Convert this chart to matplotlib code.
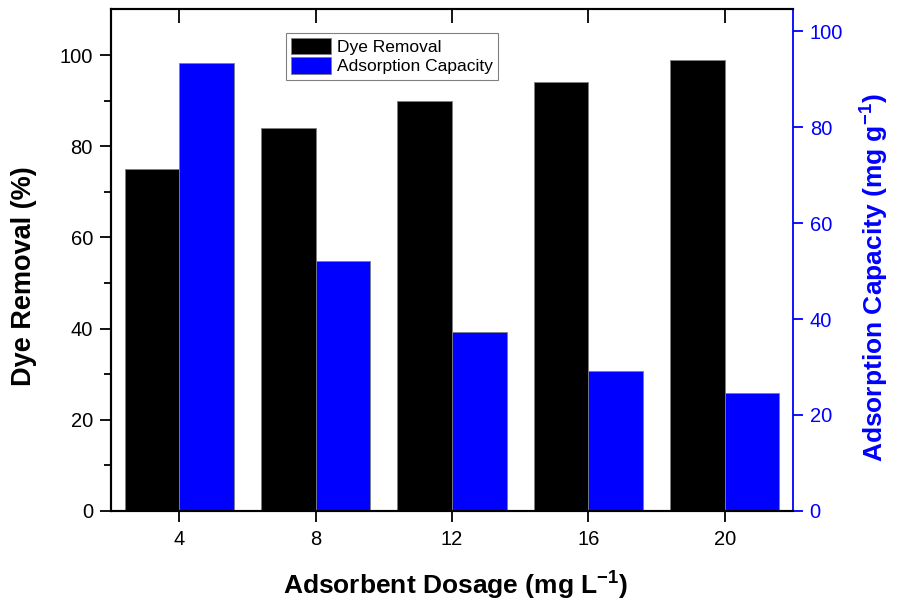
import matplotlib
matplotlib.use("Agg")
import matplotlib.pyplot as plt
import numpy as np

plt.rcParams['font.family'] = ['Liberation Sans', 'DejaVu Sans']
plt.rcParams['mathtext.default'] = 'regular'

# dosage (mg/L) vs removal and capacity
dosage = [4, 8, 12, 16, 20]
dye_removal = [75, 84, 90, 94, 99]
adsorption_capacity = [93.3, 52.1, 37.3, 29.2, 24.6]

bar_w = 1.6
blue = '#0000FF'

fig = plt.figure(figsize=(9.01, 6.01), dpi=100)
ax = fig.add_axes([0.1232, 0.1498, 0.7569, 0.8344])
ax2 = ax.twinx()

b1 = ax.bar(dosage, dye_removal, width=-bar_w, align='edge', color='black',
            edgecolor='#808080', linewidth=0.6, label='Dye Removal')
b2 = ax2.bar(dosage, adsorption_capacity, width=bar_w, align='edge', color=blue,
             edgecolor='#808080', linewidth=0.6, label='Adsorption Capacity')

ax.set_xlim(2, 22)
ax.set_ylim(0, 110)
ax2.set_ylim(0, 104.5)

ax.set_xticks(dosage)
ax.set_yticks(np.arange(0, 101, 20))
ax.set_yticks(np.arange(10, 110, 20), minor=True)
ax2.set_yticks(np.arange(0, 101, 20))

ax.tick_params(axis='x', which='major', direction='out', length=8, width=1.3,
               labelsize=14.5, top=False, pad=6)
ax.tick_params(axis='y', which='major', direction='out', length=8, width=1.3,
               labelsize=14.5, pad=5)
ax.tick_params(axis='y', which='minor', direction='out', length=5, width=1.3)
# inward ticks along the top edge
sec = ax.secondary_xaxis('top')
sec.set_xticks(dosage)
sec.tick_params(direction='in', length=10, width=1.3, labeltop=False)
sec.spines['top'].set_visible(False)

ax2.tick_params(axis='y', which='major', direction='out', length=7, width=1.3,
                labelsize=14.5, colors=blue, pad=5)

for s in ['left', 'bottom', 'top']:
    ax.spines[s].set_linewidth(1.5)
    ax2.spines[s].set_linewidth(1.5)
ax2.spines['right'].set_color(blue)
ax2.spines['right'].set_linewidth(1.3)
ax.spines['right'].set_visible(False)

ax.set_xlabel('Adsorbent Dosage (mg L$^{-1}$)', fontsize=19, fontweight='bold')
ax.set_ylabel('Dye Removal (%)', fontsize=19.5, fontweight='bold')
ax2.set_ylabel('Adsorption Capacity (mg g$^{-1}$)', fontsize=19, fontweight='bold',
               color=blue)
ax.xaxis.set_label_coords(0.505, -0.118)
ax.yaxis.set_label_coords(-0.108, 0.468)
ax2.yaxis.set_label_coords(1.096, 0.465)

leg = fig.legend(handles=[b1, b2], loc='upper left', bbox_to_anchor=(0.3174, 0.9456),
                 fontsize=12.5, frameon=True, fancybox=False, framealpha=1,
                 edgecolor='#808080', handlelength=2.3, handleheight=1.05,
                 labelspacing=0.15, handletextpad=0.35, borderpad=0.3,
                 borderaxespad=0)
leg.get_frame().set_linewidth(0.8)

fig.savefig('out.png', dpi=100)
